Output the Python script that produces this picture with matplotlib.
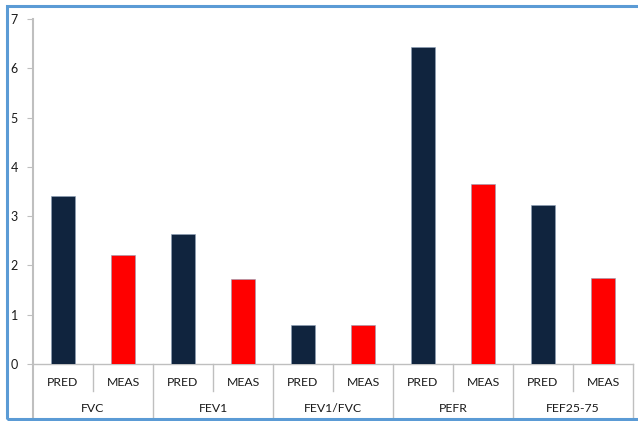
import matplotlib
matplotlib.use("Agg")
import matplotlib.pyplot as plt
from matplotlib.patches import Rectangle
from matplotlib.lines import Line2D

groups = ["FVC", "FEV1", "FEV1/FVC", "PEFR", "FEF25-75"]
subcats = ["PRED", "MEAS"]
pred = [3.41, 2.64, 0.79, 6.43, 3.23]
meas = [2.21, 1.72, 0.79, 3.65, 1.74]
yticks = [0, 1, 2, 3, 4, 5, 6, 7]

navy = "#10243E"
red = "#FF0000"
axis_gray = "#BFBFBF"
font = "Lato"

W, H = 638, 421
fig = plt.figure(figsize=(W / 100, H / 100), dpi=100)
fig.patch.set_facecolor("white")

# plot area in pixels
x0, x1 = 33, 633
y_top, y_zero = 19, 364
ax = fig.add_axes([x0 / W, (H - y_zero) / H, (x1 - x0) / W, (y_zero - y_top) / H])

n = len(groups) * 2
values, colors = [], []
for p, m in zip(pred, meas):
    values += [p, m]
    colors += [navy, red]
xs = list(range(n))
ax.bar(xs, values, width=0.4, color=colors, edgecolor="#8EA0B8", linewidth=0.4, zorder=3)

ax.set_xlim(-0.5, n - 0.5)
ax.set_ylim(0, 7)
ax.set_yticks(yticks)
ax.set_yticklabels([str(t) for t in yticks], fontsize=9, fontfamily=font, color="#1A1A1A")
ax.tick_params(axis="y", length=4, width=0.8, color=axis_gray, pad=7)
ax.set_xticks([])
for side in ["top", "right"]:
    ax.spines[side].set_visible(False)
ax.spines["left"].set_color(axis_gray)
ax.spines["left"].set_linewidth(1.5)
ax.spines["bottom"].set_color(axis_gray)
ax.spines["bottom"].set_linewidth(1.0)

# two-level category axis below the plot
trans = ax.get_xaxis_transform()
def ypx(py):
    return (y_zero - py) / (y_zero - y_top) * 1.0

sub_bottom = ypx(391)
grp_bottom = ypx(418)
for i in range(n + 1):
    xb = i - 0.5
    yb = grp_bottom if i % 2 == 0 else sub_bottom
    ax.add_line(Line2D([xb, xb], [0, yb], transform=trans, color=axis_gray,
                       linewidth=1.0 if i else 1.5, clip_on=False))
for i in range(n):
    ax.text(i, ypx(383), subcats[i % 2], transform=trans, ha="center", va="center",
            fontsize=8.8, fontfamily=font, color="#1A1A1A")
for g, name in enumerate(groups):
    ax.text(2 * g + 0.5, ypx(408), name, transform=trans, ha="center", va="center",
            fontsize=8.8, fontfamily=font, color="#1A1A1A")

# chart frame
fig.patches.append(Rectangle((7 / W, 2 / H), 1.0, (H - 8) / H, transform=fig.transFigure,
                             fill=False, edgecolor="#5B9BD5", linewidth=2.2))

fig.savefig("out.png", dpi=100, facecolor="white")
